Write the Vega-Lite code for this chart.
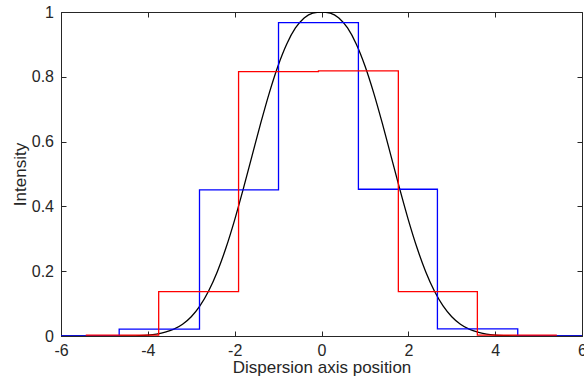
{
  "$schema": "https://vega.github.io/schema/vega-lite/v6.json",
  "width": 521,
  "height": 324,
  "autosize": "none",
  "padding": {"left": 61, "top": 12, "right": 2, "bottom": 47},
  "background": "white",
  "config": {
    "view": {"stroke": "#262626", "strokeWidth": 1},
    "axis": {
      "grid": false,
      "labelFont": "Liberation Sans",
      "labelFontSize": 16,
      "labelColor": "#262626",
      "titleFont": "Liberation Sans",
      "titleFontSize": 17,
      "titleFontWeight": "normal",
      "titleColor": "#262626",
      "tickColor": "#262626",
      "domainColor": "#262626",
      "tickSize": -5,
      "tickWidth": 1,
      "domainWidth": 1,
      "labelPadding": 11,
      "labelFlush": false,
      "labelOverlap": false
    }
  },
  "datasets": {
    "gauss": [
      {"x": -6.0, "y": 0}, {"x": -5.8, "y": 0}, {"x": -5.6, "y": 0}, {"x": -5.4, "y": 0}, {"x": -5.2, "y": 0}, {"x": -5.0, "y": 0},
      {"x": -4.8, "y": 0.0001}, {"x": -4.6, "y": 0.0003}, {"x": -4.4, "y": 0.0006}, {"x": -4.2, "y": 0.0014}, {"x": -4.0, "y": 0.0030},
      {"x": -3.8, "y": 0.0061}, {"x": -3.6, "y": 0.0116}, {"x": -3.4, "y": 0.0210}, {"x": -3.2, "y": 0.0361}, {"x": -3.0, "y": 0.0593},
      {"x": -2.8, "y": 0.0927}, {"x": -2.6, "y": 0.1387}, {"x": -2.4, "y": 0.1984}, {"x": -2.2, "y": 0.2722}, {"x": -2.0, "y": 0.3586},
      {"x": -1.8, "y": 0.4548}, {"x": -1.6, "y": 0.5560}, {"x": -1.4, "y": 0.6568}, {"x": -1.2, "y": 0.7513}, {"x": -1.0, "y": 0.8342},
      {"x": -0.8, "y": 0.9014}, {"x": -0.6, "y": 0.9507}, {"x": -0.4, "y": 0.9818}, {"x": -0.2, "y": 0.9968}, {"x": 0.0, "y": 1.0},
      {"x": 0.2, "y": 0.9968}, {"x": 0.4, "y": 0.9818}, {"x": 0.6, "y": 0.9507}, {"x": 0.8, "y": 0.9014}, {"x": 1.0, "y": 0.8342},
      {"x": 1.2, "y": 0.7513}, {"x": 1.4, "y": 0.6568}, {"x": 1.6, "y": 0.5560}, {"x": 1.8, "y": 0.4548}, {"x": 2.0, "y": 0.3586},
      {"x": 2.2, "y": 0.2722}, {"x": 2.4, "y": 0.1984}, {"x": 2.6, "y": 0.1387}, {"x": 2.8, "y": 0.0927}, {"x": 3.0, "y": 0.0593},
      {"x": 3.2, "y": 0.0361}, {"x": 3.4, "y": 0.0210}, {"x": 3.6, "y": 0.0116}, {"x": 3.8, "y": 0.0061}, {"x": 4.0, "y": 0.0030},
      {"x": 4.2, "y": 0.0014}, {"x": 4.4, "y": 0.0006}, {"x": 4.6, "y": 0.0003}, {"x": 4.8, "y": 0.0001}, {"x": 5.0, "y": 0},
      {"x": 5.2, "y": 0}, {"x": 5.4, "y": 0}, {"x": 5.6, "y": 0}, {"x": 5.8, "y": 0}, {"x": 6.0, "y": 0}
    ],
    "blue": [
      {"x": -6.0, "y": 0}, {"x": -4.66, "y": 0.021}, {"x": -2.81, "y": 0.451}, {"x": -0.99, "y": 0.967},
      {"x": 0.85, "y": 0.453}, {"x": 2.67, "y": 0.022}, {"x": 4.52, "y": 0}, {"x": 6.0, "y": 0}
    ],
    "red": [
      {"x": -5.43, "y": 0.003}, {"x": -3.75, "y": 0.137}, {"x": -1.91, "y": 0.816}, {"x": -0.07, "y": 0.818},
      {"x": 1.77, "y": 0.137}, {"x": 3.59, "y": 0.003}, {"x": 5.42, "y": 0.003}
    ]
  },
  "layer": [
    {
      "data": {"name": "gauss"},
      "mark": {"type": "line", "color": "#000000", "strokeWidth": 1.3, "interpolate": "monotone", "clip": true},
      "encoding": {
        "x": {
          "field": "x", "type": "quantitative",
          "scale": {"domain": [-6, 6], "nice": false, "zero": false},
          "axis": {"orient": "bottom", "values": [-6, -4, -2, 0, 2, 4, 6], "labelExpr": "'' + datum.value", "title": "Dispersion axis position", "titlePadding": 1}
        },
        "y": {
          "field": "y", "type": "quantitative",
          "scale": {"domain": [0, 1], "nice": false},
          "axis": {"orient": "left", "values": [0, 0.2, 0.4, 0.6, 0.8, 1], "labelExpr": "'' + datum.value", "title": "Intensity", "titlePadding": 1.5, "labelPadding": 12.5}
        }
      }
    },
    {
      "data": {"name": "blue"},
      "mark": {"type": "line", "color": "#0000FF", "strokeWidth": 1.3, "interpolate": "step-after", "clip": true},
      "encoding": {
        "x": {
          "field": "x", "type": "quantitative",
          "scale": {"domain": [-6, 6], "nice": false, "zero": false},
          "axis": {"orient": "top", "values": [-6, -4, -2, 0, 2, 4, 6], "labels": false, "domain": false, "title": null}
        },
        "y": {
          "field": "y", "type": "quantitative",
          "scale": {"domain": [0, 1], "nice": false},
          "axis": {"orient": "right", "values": [0, 0.2, 0.4, 0.6, 0.8, 1], "labels": false, "domain": false, "title": null}
        }
      }
    },
    {
      "data": {"name": "red"},
      "mark": {"type": "line", "color": "#FF0000", "strokeWidth": 1.3, "interpolate": "step-after", "clip": true},
      "encoding": {
        "x": {"field": "x", "type": "quantitative", "scale": {"domain": [-6, 6], "nice": false, "zero": false}, "axis": null},
        "y": {"field": "y", "type": "quantitative", "scale": {"domain": [0, 1], "nice": false}, "axis": null}
      }
    }
  ],
  "resolve": {"axis": {"x": "independent", "y": "independent"}}
}
